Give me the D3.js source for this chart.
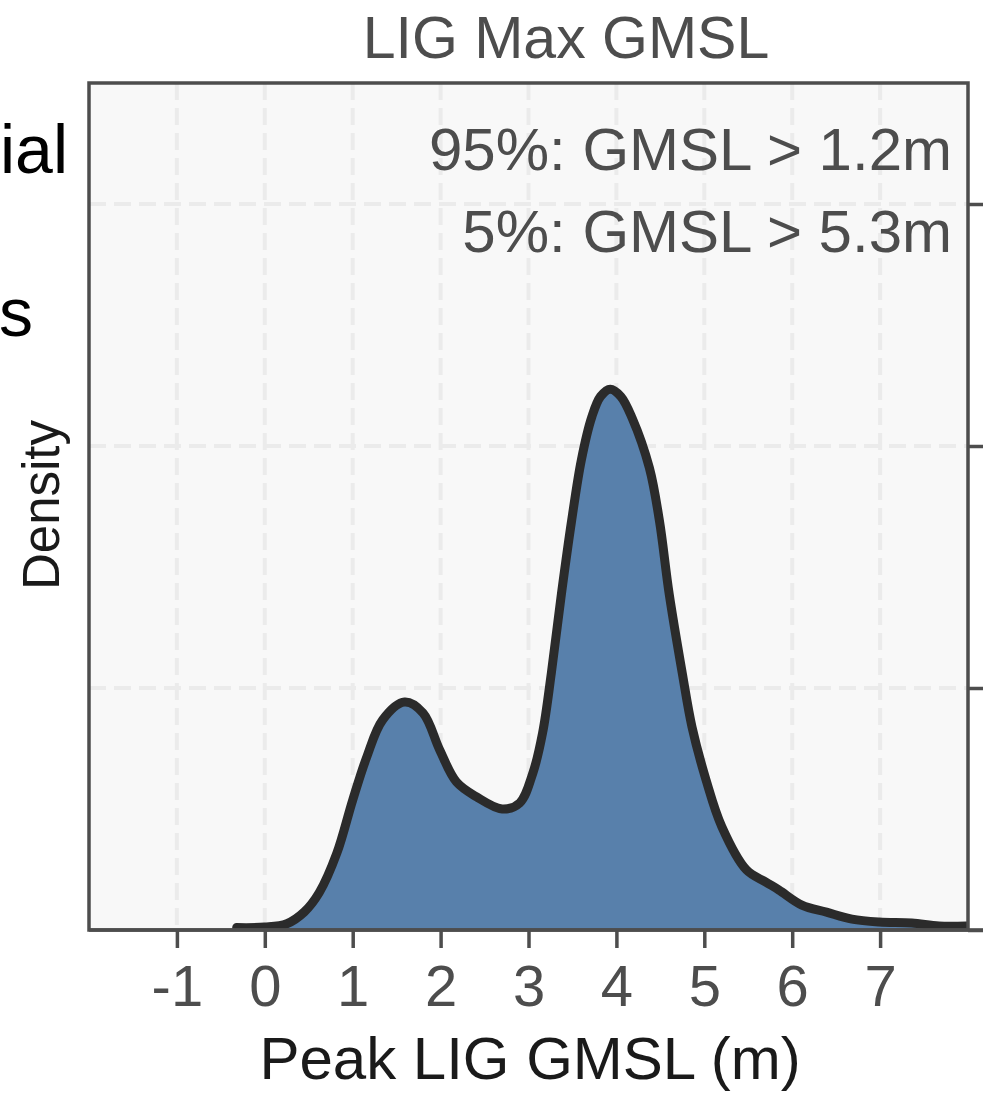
<!DOCTYPE html>
<html>
<head>
<meta charset="utf-8">
<script src="https://cdn.jsdelivr.net/npm/d3@7"></script>
<style>
  body { margin: 0; background: #fff; }
  text { font-family: "Liberation Sans", Arial, sans-serif; }
</style>
</head>
<body>
<div id="chart"></div>
<script>
// Values
var gmsl = [-0.32, 0.0, 0.25, 0.45, 0.62, 0.82, 1.0, 1.16, 1.34, 1.59, 1.80, 1.99, 2.18, 2.41, 2.70, 2.90,
  3.05, 3.16, 3.26, 3.375, 3.49, 3.60, 3.72, 3.82, 3.93, 4.05, 4.18, 4.375, 4.49, 4.60, 4.75, 4.86, 5.02, 5.20,
  5.48, 5.70, 5.85, 6.11, 6.39, 6.68, 6.99, 7.36, 7.67, 7.98];
var density = [0.001, 0.0012, 0.0026, 0.0075, 0.0155, 0.0318, 0.0537, 0.0715, 0.0868, 0.0942, 0.0897, 0.0744, 0.0612, 0.055, 0.050, 0.0525,
  0.0649, 0.0814, 0.1062, 0.139, 0.169, 0.194, 0.212, 0.2205, 0.2235, 0.2205, 0.2115, 0.191, 0.169, 0.139, 0.106, 0.0839, 0.062, 0.0426,
  0.0248, 0.0198, 0.0165, 0.0103, 0.0074, 0.0045, 0.0033, 0.0029, 0.0017, 0.0017];
var xTicks = [-1, 0, 1, 2, 3, 4, 5, 6, 7];
var yTicks = [0, 0.1, 0.2, 0.3];
var notes = ["95%: GMSL > 1.2m", "5%: GMSL > 5.3m"];
var title = "LIG Max GMSL";

var width = 983, height = 1093;
var pLeft = 89, pRight = 968, pTop = 83, pBottom = 930;

var svg = d3.select("#chart")
  .append("svg")
  .attr("width", width)
  .attr("height", height);

var x = d3.scaleLinear().domain([-2, 8]).range([pLeft, pRight]);
var y = d3.scaleLinear().domain([0, 0.35]).range([pBottom, pTop]);

var pts = gmsl.map(function(v, i) { return [v, density[i]]; });

// panel background
svg.append("rect")
  .attr("x", pLeft).attr("y", pTop)
  .attr("width", pRight - pLeft).attr("height", pBottom - pTop)
  .attr("fill", "#f8f8f8");

// dashed grid
var grid = svg.append("g")
  .attr("stroke", "#ebebeb")
  .attr("stroke-width", 4)
  .attr("stroke-dasharray", "17,8");

grid.selectAll(".vg")
  .data(xTicks)
  .enter().append("line")
  .attr("x1", function(d) { return x(d); })
  .attr("x2", function(d) { return x(d); })
  .attr("y1", pTop).attr("y2", pBottom);

grid.selectAll(".hg")
  .data(yTicks.slice(1))
  .enter().append("line")
  .attr("y1", function(d) { return y(d); })
  .attr("y2", function(d) { return y(d); })
  .attr("x1", pLeft).attr("x2", pRight);

svg.append("clipPath").attr("id", "clip")
  .append("rect")
  .attr("x", pLeft).attr("y", pTop)
  .attr("width", pRight - pLeft).attr("height", pBottom - pTop);

var area = d3.area()
  .x(function(d) { return x(d[0]); })
  .y0(y(0))
  .y1(function(d) { return y(d[1]); })
  .curve(d3.curveCatmullRom.alpha(0.5));

var line = d3.line()
  .x(function(d) { return x(d[0]); })
  .y(function(d) { return y(d[1]); })
  .curve(d3.curveCatmullRom.alpha(0.5));

var plot = svg.append("g").attr("clip-path", "url(#clip)");

plot.append("path")
  .datum(pts)
  .attr("d", area)
  .attr("fill", "#5880ab");

plot.append("path")
  .datum(pts)
  .attr("d", line)
  .attr("fill", "none")
  .attr("stroke", "#2b2b2b")
  .attr("stroke-width", 9)
  .attr("stroke-linejoin", "round")
  .attr("stroke-linecap", "round");

// panel border
svg.append("rect")
  .attr("x", pLeft).attr("y", pTop)
  .attr("width", pRight - pLeft).attr("height", pBottom - pTop)
  .attr("fill", "none")
  .attr("stroke", "#4d4d4d")
  .attr("stroke-width", 3.5);

// bottom axis
var xAxis = svg.append("g")
  .attr("transform", "translate(0," + pBottom + ")")
  .call(d3.axisBottom(x).tickValues(xTicks).tickSize(18).tickPadding(17));
xAxis.select(".domain").remove();
xAxis.selectAll(".tick line").attr("stroke", "#4d4d4d").attr("stroke-width", 3.5);
xAxis.selectAll(".tick text")
  .attr("fill", "#4d4d4d")
  .style("font-size", "58px")
  .text(function(d) { return d < 0 ? "-" + Math.abs(d) : d; });

svg.append("line")
  .attr("x1", pLeft).attr("x2", width)
  .attr("y1", pBottom).attr("y2", pBottom)
  .attr("stroke", "#4d4d4d").attr("stroke-width", 3.5);

// right side ticks
var yAxis = svg.append("g")
  .attr("transform", "translate(" + pRight + ",0)")
  .call(d3.axisRight(y).tickValues(yTicks).tickSize(20).tickFormat(""));
yAxis.select(".domain").remove();
yAxis.selectAll(".tick line").attr("stroke", "#4d4d4d").attr("stroke-width", 3.5);

// title
svg.append("text")
  .attr("x", 566).attr("y", 58)
  .attr("text-anchor", "middle")
  .attr("fill", "#4d4d4d")
  .style("font-size", "59px")
  .text(title);

// annotations
svg.selectAll(".note")
  .data(notes)
  .enter().append("text")
  .attr("x", 952)
  .attr("y", function(d, i) { return 170 + i * 82; })
  .attr("text-anchor", "end")
  .attr("fill", "#4d4d4d")
  .style("font-size", "60px")
  .text(function(d) { return d; });

// axis titles
svg.append("text")
  .attr("x", 530).attr("y", 1079)
  .attr("text-anchor", "middle")
  .attr("fill", "#1a1a1a")
  .style("font-size", "60px")
  .text("Peak LIG GMSL (m)");

svg.append("text")
  .attr("transform", "translate(59,505) rotate(-90)")
  .attr("text-anchor", "middle")
  .attr("fill", "#1a1a1a")
  .style("font-size", "51px")
  .text("Density");

// cut-off text from the neighbouring panel
svg.append("text")
  .attr("x", 68).attr("y", 173)
  .attr("text-anchor", "end")
  .attr("fill", "#000")
  .style("font-size", "68px")
  .text("ial");

svg.append("text")
  .attr("x", 33).attr("y", 336)
  .attr("text-anchor", "end")
  .attr("fill", "#000")
  .style("font-size", "68px")
  .text("s");
</script>
</body>
</html>
